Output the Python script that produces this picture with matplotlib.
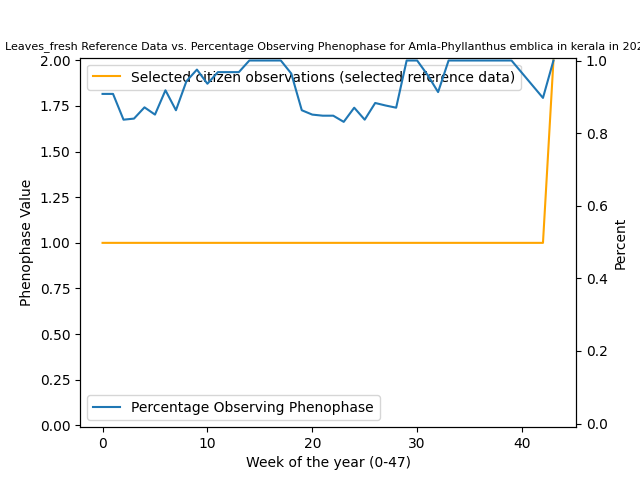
import matplotlib
matplotlib.use("Agg")
import matplotlib.pyplot as plt

# reference data (phenophase value per week)
ref_weeks = list(range(0, 44))
ref_values = [1.0] * 43 + [2.0]

# citizen observations (fraction observing phenophase)
pct_weeks = list(range(0, 40)) + [42, 43]
pct_values = [
    0.908, 0.908, 0.837, 0.840, 0.871, 0.851, 0.918, 0.863, 0.943, 0.975,
    0.936, 0.968, 0.968, 0.968, 1.0, 1.0, 1.0, 1.0, 0.964, 0.863,
    0.851, 0.848, 0.848, 0.831, 0.870, 0.837, 0.883, 0.876, 0.870, 1.0,
    1.0, 0.960, 0.913, 1.0, 1.0, 1.0, 1.0, 1.0, 1.0, 1.0,
    0.897, 1.0,
]

fig, ax1 = plt.subplots(figsize=(6.4, 4.8), dpi=100)
ax1.plot(ref_weeks, ref_values, color="orange",
         label="Selected citizen observations (selected reference data)")
ax1.set_xlabel("Week of the year (0-47)")
ax1.set_ylabel("Phenophase Value")
ax1.set_ylim(-0.01, 2.015)
ax1.legend(loc="upper left")

ax2 = ax1.twinx()
ax2.plot(pct_weeks, pct_values, color="#1f77b4", label="Percentage Observing Phenophase")
ax2.set_ylabel("Percent")
ax2.set_ylim(-0.01, 1.008)
ax2.legend(loc="lower left")

ax1.set_title("Leaves_fresh Reference Data vs. Percentage Observing Phenophase "
              "for Amla-Phyllanthus emblica in kerala in 2023", fontsize=8)

fig.savefig("out.png", dpi=100)
plt.close(fig)
